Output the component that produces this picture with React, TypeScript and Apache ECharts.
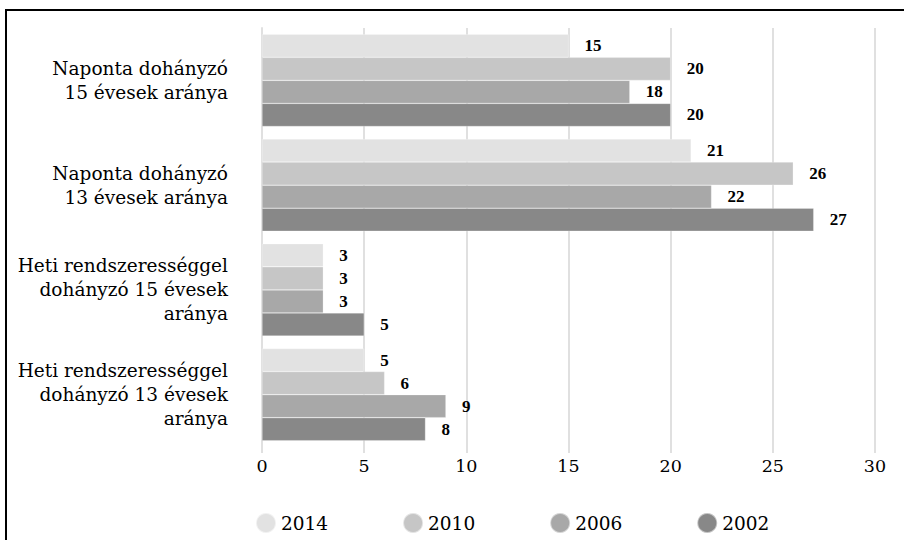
import React, { useEffect, useRef } from "react";
import * as echarts from "echarts";

const categories = [
  "Naponta dohányzó\n15 évesek aránya",
  "Naponta dohányzó\n13 évesek aránya",
  "Heti rendszerességgel\ndohányzó 15 évesek\naránya",
  "Heti rendszerességgel\ndohányzó 13 évesek\naránya",
];
const seriesNames = ["2014", "2010", "2006", "2002"];
const values2014 = [15, 21, 3, 5];
const values2010 = [20, 26, 3, 6];
const values2006 = [18, 22, 3, 9];
const values2002 = [20, 27, 5, 8];
const colors = ["#e2e2e2", "#c6c6c6", "#a8a8a8", "#888888"];

const FONT = "DejaVu Serif";
const BOLD_FONT = "Liberation Serif";

export default function App() {
  const ref = useRef<HTMLDivElement>(null);
  useEffect(() => {
    if (!ref.current) return;
    const chart = echarts.init(ref.current, null, { renderer: "svg" });
    const all = [values2014, values2010, values2006, values2002];
    chart.setOption({
      animation: false,
      textStyle: { fontFamily: FONT },
      grid: {
        left: 262,
        right: 29,
        top: 28,
        bottom: 93,
        containLabel: false,
        outerBoundsMode: "none",
      },
      legend: {
        data: seriesNames.map((n) => ({ name: n, icon: "circle" })),
        left: 250,
        top: 507,
        itemWidth: 20,
        itemHeight: 20,
        itemGap: 74,
        textStyle: { fontFamily: FONT, fontSize: 18.5, color: "#000" },
      },
      xAxis: {
        type: "value",
        min: 0,
        max: 30,
        interval: 5,
        axisLine: { show: false },
        axisTick: { show: true, length: 6, lineStyle: { color: "#e0e0e0", width: 2 } },
        splitLine: { show: true, lineStyle: { color: "#e0e0e0", width: 2 } },
        axisLabel: { fontFamily: FONT, fontSize: 17.5, color: "#000", margin: 10 },
      },
      yAxis: {
        type: "category",
        inverse: true,
        data: categories,
        axisLine: { show: true, lineStyle: { color: "#e0e0e0", width: 2 } },
        axisTick: { show: false },
        axisLabel: {
          fontFamily: FONT,
          fontSize: 18.5,
          color: "#000",
          lineHeight: 24,
          align: "right",
          margin: 34,
        },
      },
      series: seriesNames.map((name, i) => ({
        name,
        type: "bar",
        data: all[i],
        barGap: "0%",
        barCategoryGap: "12%",
        itemStyle: {
          color: colors[i],
          borderColor: "rgba(255,255,255,0.5)",
          borderWidth: 0.5,
        },
        label: {
          show: true,
          position: "right",
          distance: 16,
          fontFamily: BOLD_FONT,
          fontSize: 17,
          fontWeight: "bold",
          color: "#000",
        },
      })),
    });
    return () => chart.dispose();
  }, []);
  return (
    <div style={{ position: "fixed", left: 0, top: 0, width: 904, height: 540, background: "#fff" }}>
      <div
        style={{
          position: "absolute",
          left: 5,
          top: 9,
          width: 1000,
          height: 700,
          border: "2px solid #000",
          boxSizing: "border-box",
        }}
      />
      <div ref={ref} style={{ position: "absolute", left: 0, top: 0, width: 904, height: 540 }} />
    </div>
  );
}
